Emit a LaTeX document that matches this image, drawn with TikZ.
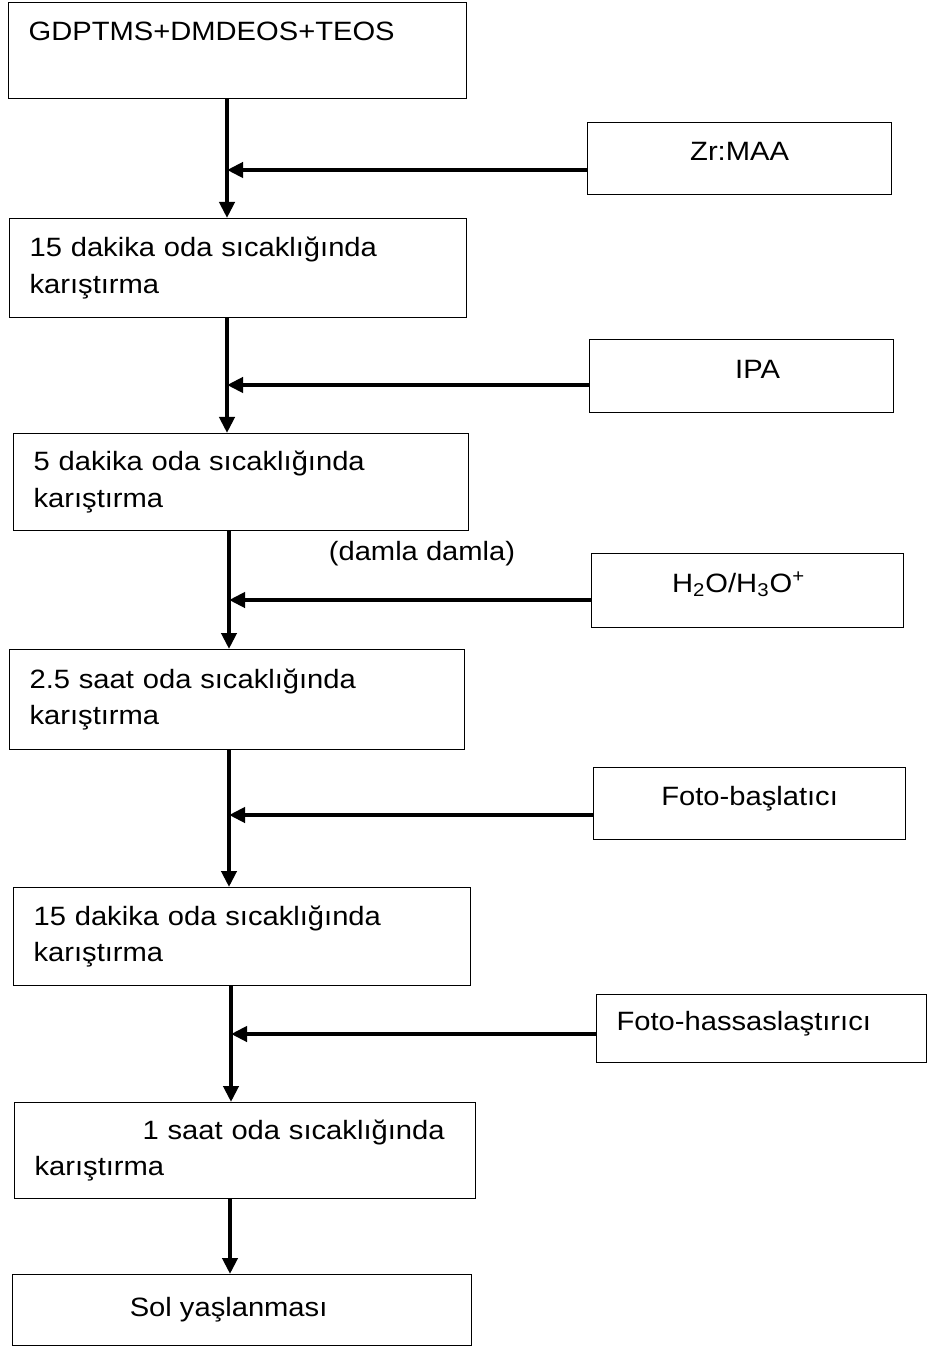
\documentclass[tikz,border=0pt]{standalone}
\usepackage{fontspec}
\setmainfont{Liberation Sans}[FakeStretch=1.1]
\usepackage{tikz}
\usetikzlibrary{arrows.meta,calc,positioning}
\newcommand{\stepfont}{\fontsize{13.25pt}{18.4pt}\selectfont}
\tikzstyle{stepbox} = [draw, line width=0.6pt, rectangle, anchor=north west,
    inner xsep=10pt, inner ysep=0pt, align=left]
\tikzstyle{addbox} = [draw, line width=0.6pt, rectangle, anchor=north west,
    inner xsep=10pt, inner ysep=0pt, text height=9.5pt, text depth=7.5pt]
\tikzstyle{flow} = [line width=2pt, -{Triangle[length=8pt,width=7.5pt]}]

\begin{document}
\begin{tikzpicture}[x=0.5pt, y=-0.5pt, font=\stepfont]
\useasboundingbox (0,0) rectangle (927,1347);
% process steps
\node [stepbox, text width=209pt, minimum height=48pt,
    text height=9.5pt, text depth=19.5pt] (b1) at (8,2) {GDPTMS+DMDEOS+TEOS};
\node [stepbox, text width=208.5pt, minimum height=49.5pt] (b2) at (9,218)
    {15 dakika oda sıcaklığında\\karıştırma};
\node [stepbox, text width=207.5pt, minimum height=48.5pt] (b3) at (13,433)
    {5 dakika oda sıcaklığında\\karıştırma};
\node [stepbox, text width=207.5pt, minimum height=50pt] (b4) at (9,649)
    {2.5 saat oda sıcaklığında\\karıştırma};
\node [stepbox, text width=208.5pt, minimum height=49pt] (b5) at (13,887)
    {15 dakika oda sıcaklığında\\karıştırma};
\node [stepbox, text width=210.5pt, minimum height=48pt] (b6) at (14,1102)
    {\hspace*{54pt}1 saat oda sıcaklığında\\karıştırma};
\node [stepbox, align=center, minimum width=229.5pt, minimum height=35.5pt] (b7) at (12,1274)
    {Sol yaşlanması\hspace*{13.5pt}};
% additions
\node [addbox, minimum width=152pt, minimum height=36pt] (zr) at (587,122) {Zr:MAA};
\node [addbox, minimum width=152pt, minimum height=36.5pt] (ipa) at (589,339) {\hspace*{16pt}IPA};
\node [addbox, minimum width=156pt, minimum height=37pt] (h2o) at (591,553)
    {H\textsubscript{2}O/H\textsubscript{3}O\textsuperscript{+}\hspace*{9pt}};
\node [addbox, minimum width=156pt, minimum height=36pt] (fb) at (593,767) {Foto-başlatıcı};
\node [addbox, text width=145pt, align=left, minimum height=34pt] (fh) at (596,994)
    {Foto-hassaslaştırıcı};
\node [inner sep=0pt] (damla) at (422,554) {(damla damla)};
% junctions on the main line
\coordinate (j1) at (227,170);
\coordinate (j2) at (227,385);
\coordinate (j3) at (229,600);
\coordinate (j4) at (229,815);
\coordinate (j5) at (231,1034);
\coordinate (j6) at (230,1240);
\draw [flow] (b1.south -| j1) -- (b2.north -| j1);
\draw [flow] (b2.south -| j2) -- (b3.north -| j2);
\draw [flow] (b3.south -| j3) -- (b4.north -| j3);
\draw [flow] (b4.south -| j4) -- (b5.north -| j4);
\draw [flow] (b5.south -| j5) -- (b6.north -| j5);
\draw [flow] (b6.south -| j6) -- (b7.north -| j6);
\draw [flow] (zr.west |- j1) -- (j1);
\draw [flow] (ipa.west |- j2) -- (j2);
\draw [flow] (h2o.west |- j3) -- (j3);
\draw [flow] (fb.west |- j4) -- (j4);
\draw [flow] (fh.west |- j5) -- (j5);
\end{tikzpicture}
\end{document}
